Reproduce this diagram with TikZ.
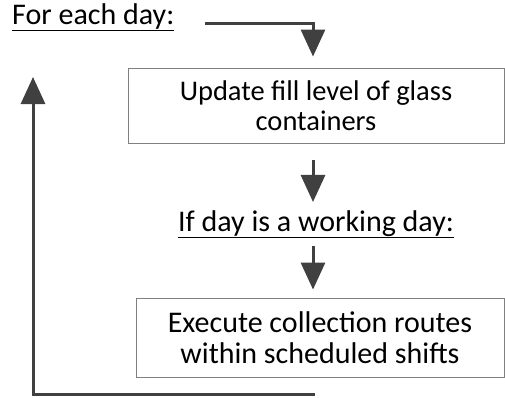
\documentclass[tikz,border=0pt]{standalone}
\usepackage{fontspec}
\setmainfont{Carlito}
\usepackage{tikz}
\usetikzlibrary{positioning,arrows.meta}

\definecolor{arrowgray}{HTML}{404040}
\definecolor{boxgray}{HTML}{808080}

\tikzset{
    stepbox/.style={draw=boxgray, line width=0.9pt, align=center, inner sep=0pt,
        font=\fontsize{30}{31}\selectfont, text=black},
    label/.style={inner sep=0pt, font=\fontsize{30}{31}\selectfont, text=black},
    flow/.style={draw=arrowgray, line width=3pt,
        -{Triangle[length=27pt,width=24pt]}}
}

\begin{document}
\begin{tikzpicture}[x=1pt,y=-1pt]
            \useasboundingbox (0,0) rectangle (505,397);
            \node[label, anchor=base west] (day) at (12,24) {\underline{For each day:}};
            \node[stepbox, minimum width=376pt, minimum height=75pt,
                font=\fontsize{28.5}{30}\selectfont] (update) at (316,105.5)
                {Update fill level of glass\\containers};
            \node[label, anchor=base] (work) at (316,231) {\underline{If day is a working day:}};
            \node[stepbox, minimum width=368pt, minimum height=79pt] (routes) at (320,337.5)
                {Execute collection routes\\within scheduled shifts};
            % loop back to the next day
            \coordinate (start) at (205,23);
            \coordinate (endloop) at (315,394);
            \coordinate (top) at (33,77);
            \draw[flow, shorten >=11pt] (start) -| ([xshift=-3pt]update.north);
            \draw[flow, shorten <=17pt, shorten >=8pt] ([xshift=-3pt]update.south) -- ([xshift=-3pt]work.north);
            \draw[flow, shorten <=8pt, shorten >=8pt] ([xshift=-3pt]work.south) -- ([xshift=-3pt]work.south |- routes.north);
            \draw[flow] (endloop) -| (top);
        \end{tikzpicture}
\end{document}
